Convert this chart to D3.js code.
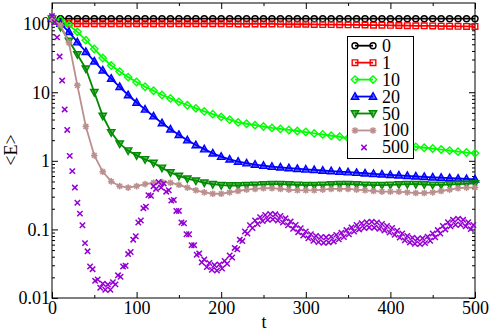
<!DOCTYPE html>
<html>
<head>
<meta charset="utf-8">
<script src="https://cdn.jsdelivr.net/npm/d3@7"></script>
<style>
  body { margin: 0; background: #fff; }
  svg text { font-family: "Liberation Serif", "DejaVu Serif", serif; }
</style>
</head>
<body>
<svg id="chart"></svg>
<script>
// values, one point every 10 time units
const e0 = [118,118,118,118,118,118,118,118,118,118,118,118,118,118,118,118,118,118,118,118,118,118,118,118,118,118,118,118,118,118,118,118,118,118,118,118,118,118,118,118,118,118,118,118,118,118,118,118,118,118,118];
const e1 = [118,104,101,100,100,100,100,100,100,100,100,100,100,100,100,100,100,100,100,100,100,99.5,99,99,99,99,99,98.5,98,98,98,97.5,97,97,96.5,96,96,95.5,95,95,94.5,94,93.5,93,93,92.5,92,92,91.5,91,91];
const e10 = [118,112,95.5,75.9,57.5,42.7,31.6,24.5,20.0,16.6,14.1,12.0,10.5,9.12,8.13,7.24,6.46,5.82,5.25,4.79,4.37,3.98,3.63,3.47,3.31,3.16,3.02,2.92,2.82,2.72,2.63,2.51,2.43,2.32,2.24,2.14,2.07,2.00,1.91,1.84,1.78,1.72,1.66,1.60,1.55,1.51,1.46,1.41,1.36,1.32,1.29];
const e20 = [118,100,75.9,53.7,38.9,28.2,20.9,15.8,12.0,9.12,7.08,5.62,4.47,3.55,2.88,2.40,2.00,1.70,1.48,1.29,1.15,1.05,0.977,0.923,0.881,0.851,0.822,0.803,0.785,0.767,0.750,0.736,0.723,0.710,0.697,0.684,0.671,0.659,0.647,0.635,0.624,0.614,0.604,0.594,0.585,0.575,0.568,0.560,0.552,0.545,0.537];
const e50 = [118,89,56.2,35.5,22.0,10.0,4.5,2.6,1.78,1.41,1.20,1.05,0.93,0.79,0.676,0.603,0.55,0.513,0.479,0.457,0.442,0.437,0.437,0.442,0.447,0.452,0.457,0.457,0.452,0.447,0.442,0.442,0.447,0.452,0.457,0.457,0.452,0.447,0.442,0.442,0.447,0.452,0.457,0.457,0.452,0.447,0.447,0.452,0.457,0.462,0.468];
const e100 = [118,95.5,52.5,12.6,3.16,1.20,0.692,0.501,0.427,0.407,0.427,0.457,0.479,0.490,0.479,0.447,0.407,0.372,0.347,0.331,0.331,0.347,0.363,0.380,0.389,0.398,0.398,0.389,0.380,0.372,0.372,0.372,0.380,0.389,0.389,0.389,0.380,0.372,0.363,0.355,0.355,0.355,0.347,0.339,0.339,0.347,0.363,0.380,0.398,0.407,0.407];
// the 500 series is sampled every 3 time units
const e500 = [129,105,63.1,33.1,14.8,5.62,2.82,1.18,0.708,0.407,0.245,0.170,
  0.115,0.0631,0.0479,0.0288,0.0263,0.0178,0.0186,0.0141,0.0162,0.0132,0.0157,0.0132,0.0170,0.0158,0.0214,0.0204,0.0288,0.0295,0.0437,0.0468,0.0708,0.0794,0.126,0.135,0.204,0.214,0.316,0.309,0.427,0.389,0.490,0.407,0.468,0.355,0.372,0.263,0.269,0.186,0.186,0.126,0.123,0.0851,0.0851,0.0589,0.0589,0.0427,0.0447,0.0331,0.0363,0.0282,0.0324,0.0257,0.0302,0.0251,0.0309,0.0269,0.0347,0.0316,0.0417,0.0389,0.0537,0.0513,0.0708,0.0676,0.0933,0.0871,0.115,0.105,0.135,0.120,0.151,0.132,0.162,0.138,0.168,0.140,0.166,0.135,0.157,0.126,0.145,0.115,0.130,0.102,0.116,0.0912,0.104,0.0813,0.0933,0.0741,0.0851,0.0684,0.0804,0.0653,0.0776,0.0638,0.0767,0.0646,0.0785,0.0668,0.0832,0.0716,0.0891,0.0776,0.0977,0.0851,0.107,0.0933,0.116,0.100,0.123,0.105,0.127,0.107,0.129,0.106,0.126,0.102,0.120,0.0966,0.112,0.0902,0.105,0.0832,0.0955,0.0759,0.0871,0.0692,0.0804,0.0646,0.0759,0.0617,0.0733,0.0610,0.0741,0.0631,0.0785,0.0684,0.0871,0.0767,0.0977,0.0871,0.112,0.100,0.127,0.111,0.138,0.117,0.143,0.117,0.138,0.111,0.127,0.101,0.116];

const seriesNames = ["0", "1", "10", "20", "50", "100", "500"];
const seriesColors = ["#000000", "#ff0000", "#00ff00", "#0000ff", "#008b00", "#bc8f8f", "#9400d3"];
const seriesSymbols = ["circle", "square", "diamond", "triUp", "triDown", "star", "cross"];
const xTicks = [0, 100, 200, 300, 400, 500];
const xTickLabels = ["0", "100", "200", "300", "400", "500"];
const xMinorTicks = [50, 150, 250, 350, 450];
const yTicks = [0.01, 0.1, 1, 10, 100];
const yTickLabels = ["0.01", "0.1", "1", "10", "100"];

const tCoarse = e0.map((d, i) => i * 10);
const tFine = e500.map((d, i) => i * 3);
const series = [e0, e1, e10, e20, e50, e100].map((vals, k) => ({
    name: seriesNames[k], color: seriesColors[k], symbol: seriesSymbols[k], line: true,
    pts: vals.map((v, i) => [tCoarse[i], v])
}));
series.push({ name: seriesNames[6], color: seriesColors[6], symbol: seriesSymbols[6], line: false,
    pts: e500.map((v, i) => [tFine[i], v]) });

const W = 491, H = 333;
const margin = { top: 3, right: 16, bottom: 35, left: 52 };
const svg = d3.select("#chart").attr("width", W).attr("height", H);

const x = d3.scaleLinear().domain([0, 500]).range([margin.left, W - margin.right]);
const y = d3.scaleLog().domain([0.01, 200]).range([H - margin.bottom, margin.top]);

const yMinor = [];
yTicks.forEach(d => { for (let k = 2; k <= 9; k++) if (d * k < 200) yMinor.push(d * k); });

function styleAxis(g) {
    g.select(".domain").remove();
    g.selectAll("line").attr("stroke", "#000");
    g.attr("font-size", 18).attr("font-family", "Liberation Serif, serif");
    g.selectAll("text").attr("fill", "#000");
}

const yBot = H - margin.bottom, yTop = margin.top, xLeft = margin.left, xRight = W - margin.right;

svg.append("g").attr("transform", `translate(0,${yBot})`)
    .call(d3.axisBottom(x).tickValues(xTicks).tickFormat((d, i) => xTickLabels[i]).tickSize(-6).tickPadding(3)).call(styleAxis);
svg.append("g").attr("transform", `translate(0,${yBot})`)
    .call(d3.axisBottom(x).tickValues(xMinorTicks).tickFormat("").tickSize(-3)).call(styleAxis);
svg.append("g").attr("transform", `translate(0,${yTop})`)
    .call(d3.axisTop(x).tickValues(xTicks).tickFormat("").tickSize(-6)).call(styleAxis);
svg.append("g").attr("transform", `translate(0,${yTop})`)
    .call(d3.axisTop(x).tickValues(xMinorTicks).tickFormat("").tickSize(-3)).call(styleAxis);

svg.append("g").attr("transform", `translate(${xLeft},0)`)
    .call(d3.axisLeft(y).tickValues(yTicks).tickFormat((d, i) => yTickLabels[i]).tickSize(-6).tickPadding(2)).call(styleAxis);
svg.append("g").attr("transform", `translate(${xLeft},0)`)
    .call(d3.axisLeft(y).tickValues(yMinor).tickFormat("").tickSize(-3)).call(styleAxis);
svg.append("g").attr("transform", `translate(${xRight},0)`)
    .call(d3.axisRight(y).tickValues(yTicks).tickFormat("").tickSize(-6)).call(styleAxis);
svg.append("g").attr("transform", `translate(${xRight},0)`)
    .call(d3.axisRight(y).tickValues(yMinor).tickFormat("").tickSize(-3)).call(styleAxis);

svg.append("rect")
    .attr("x", xLeft).attr("y", yTop).attr("width", xRight - xLeft).attr("height", yBot - yTop)
    .attr("fill", "none").attr("stroke", "#000").attr("stroke-width", 1);

// axis titles
svg.append("text").attr("x", x(250) + 0.5).attr("y", 328)
    .attr("text-anchor", "middle").attr("font-size", 18).text("t");
svg.append("text").attr("transform", "translate(17,150) rotate(-90)")
    .attr("text-anchor", "middle").attr("font-size", 18).text("<E>");

function marker(g, type, cx, cy, color) {
    const s = 3.3;
    let p;
    if (type === "circle") {
        g.append("circle").attr("cx", cx).attr("cy", cy).attr("r", 3)
            .attr("fill", "none").attr("stroke", color).attr("stroke-width", 1.4);
        return;
    }
    if (type === "square") p = `M${cx - 2.8},${cy - 2.8}h5.6v5.6h-5.6Z`;
    if (type === "diamond") p = `M${cx},${cy - s - 0.4}L${cx + s + 0.4},${cy}L${cx},${cy + s + 0.4}L${cx - s - 0.4},${cy}Z`;
    if (type === "triUp") p = `M${cx},${cy - s - 0.6}L${cx + s + 0.4},${cy + s - 0.6}L${cx - s - 0.4},${cy + s - 0.6}Z`;
    if (type === "triDown") p = `M${cx},${cy + s + 0.6}L${cx + s + 0.4},${cy - s + 0.6}L${cx - s - 0.4},${cy - s + 0.6}Z`;
    if (type === "star") p = `M${cx - s},${cy}H${cx + s}M${cx},${cy - s}V${cy + s}M${cx - 2.4},${cy - 2.4}L${cx + 2.4},${cy + 2.4}M${cx - 2.4},${cy + 2.4}L${cx + 2.4},${cy - 2.4}`;
    if (type === "cross") p = `M${cx - 2.7},${cy - 2.7}L${cx + 2.7},${cy + 2.7}M${cx - 2.7},${cy + 2.7}L${cx + 2.7},${cy - 2.7}`;
    const solid = type === "triUp" || type === "triDown";
    g.append("path").attr("d", p)
        .attr("fill", solid ? color : "none").attr("fill-opacity", solid ? 0.6 : null)
        .attr("stroke", color)
        .attr("stroke-width", type === "star" || type === "cross" ? 1.5 : 1.4);
}

const line = d3.line().x(d => x(d[0])).y(d => y(d[1]));

series.forEach(s => {
    const g = svg.append("g");
    if (s.line) {
        g.append("path").datum(s.pts).attr("d", line)
            .attr("fill", "none").attr("stroke", s.color).attr("stroke-width", 1.8);
    }
    s.pts.forEach(d => marker(g, s.symbol, x(d[0]), y(d[1]), s.color));
});

// legend
const lg = svg.append("g");
lg.append("rect").attr("x", 347.5).attr("y", 36.5).attr("width", 66).attr("height", 122)
    .attr("fill", "#fff").attr("stroke", "#000").attr("stroke-width", 1);
series.forEach((s, i) => {
    const cy = 45.7 + i * 16.95;
    if (s.line) {
        lg.append("line").attr("x1", 355).attr("x2", 373).attr("y1", cy).attr("y2", cy)
            .attr("stroke", s.color).attr("stroke-width", 1.8);
        marker(lg, s.symbol, 355, cy, s.color);
        marker(lg, s.symbol, 373, cy, s.color);
    } else {
        marker(lg, s.symbol, 364, cy, s.color);
    }
    lg.append("text").attr("x", 382).attr("y", cy + 6).attr("font-size", 18).text(s.name);
});
</script>
</body>
</html>
